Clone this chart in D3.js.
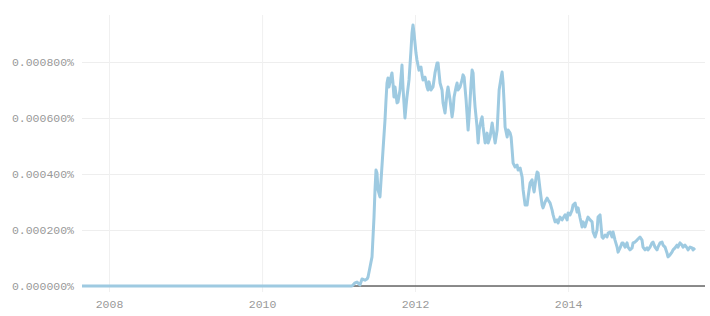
<!DOCTYPE html>
<meta charset="utf-8">
<title>Share over time</title>

<style>

body{
	margin: 0;
	background: white;
}
.tick text{
	font-family: "Liberation Mono", "DejaVu Sans Mono", monospace;
	font-size: 11.5px;
	fill: #999;
}
</style>

<body>

<script src="https://d3js.org/d3.v7.min.js"></script>

<script>

// decimal years
var years = [
	2007.647, 2011.176, 2011.216, 2011.242, 2011.281, 2011.307, 2011.346, 2011.373, 2011.386, 2011.412,
	2011.438, 2011.451, 2011.464, 2011.477, 2011.490, 2011.503, 2011.516, 2011.542, 2011.582, 2011.608,
	2011.621, 2011.634, 2011.647, 2011.660, 2011.686, 2011.699, 2011.712, 2011.725, 2011.739, 2011.765,
	2011.778, 2011.804, 2011.830, 2011.843, 2011.856, 2011.869, 2011.882, 2011.895, 2011.922, 2011.948,
	2011.961, 2011.974, 2011.987, 2012.013, 2012.026, 2012.052, 2012.078, 2012.092, 2012.105, 2012.131,
	2012.157, 2012.170, 2012.183, 2012.209, 2012.235, 2012.261, 2012.288, 2012.301, 2012.327, 2012.353,
	2012.366, 2012.392, 2012.418, 2012.431, 2012.458, 2012.484, 2012.497, 2012.510, 2012.536, 2012.549,
	2012.562, 2012.588, 2012.614, 2012.627, 2012.641, 2012.667, 2012.693, 2012.706, 2012.732, 2012.745,
	2012.758, 2012.771, 2012.784, 2012.810, 2012.824, 2012.837, 2012.863, 2012.876, 2012.889, 2012.915,
	2012.941, 2012.954, 2012.980, 2013.007, 2013.020, 2013.046, 2013.072, 2013.085, 2013.098, 2013.124,
	2013.137, 2013.150, 2013.163, 2013.176, 2013.203, 2013.216, 2013.242, 2013.255, 2013.268, 2013.281,
	2013.307, 2013.333, 2013.346, 2013.373, 2013.399, 2013.412, 2013.438, 2013.464, 2013.477, 2013.503,
	2013.529, 2013.542, 2013.556, 2013.582, 2013.595, 2013.608, 2013.634, 2013.660, 2013.673, 2013.699,
	2013.725, 2013.739, 2013.765, 2013.791, 2013.804, 2013.830, 2013.856, 2013.869, 2013.895, 2013.922,
	2013.935, 2013.961, 2013.987, 2014.000, 2014.026, 2014.052, 2014.065, 2014.092, 2014.118, 2014.131,
	2014.157, 2014.183, 2014.196, 2014.222, 2014.248, 2014.261, 2014.288, 2014.314, 2014.327, 2014.353,
	2014.379, 2014.392, 2014.418, 2014.444, 2014.458, 2014.484, 2014.510, 2014.523, 2014.549, 2014.575,
	2014.588, 2014.614, 2014.641, 2014.654, 2014.680, 2014.706, 2014.719, 2014.745, 2014.771, 2014.784,
	2014.810, 2014.837, 2014.850, 2014.876, 2014.902, 2014.941, 2014.967, 2014.980, 2015.007, 2015.033,
	2015.046, 2015.072, 2015.098, 2015.111, 2015.137, 2015.163, 2015.176, 2015.203, 2015.229, 2015.242,
	2015.268, 2015.294, 2015.307, 2015.333, 2015.359, 2015.373, 2015.399, 2015.425, 2015.438, 2015.464,
	2015.490, 2015.503, 2015.529, 2015.556, 2015.569, 2015.595, 2015.621, 2015.634, 2015.660
];

// share, in percent
var values = [
	0, 0, 0.000011, 0.000014, 0.000004, 0.000025, 0.000021, 0.000025, 0.000032, 0.000068,
	0.000104, 0.000175, 0.000246, 0.000343, 0.000414, 0.000404, 0.000343, 0.000318, 0.000486, 0.000593,
	0.000664, 0.000725, 0.000743, 0.000711, 0.000746, 0.000761, 0.000725, 0.000675, 0.000711, 0.000654,
	0.000657, 0.000700, 0.000789, 0.000711, 0.000654, 0.000600, 0.000639, 0.000675, 0.000736, 0.000843,
	0.000904, 0.000932, 0.000904, 0.000832, 0.000807, 0.000771, 0.000782, 0.000754, 0.000736, 0.000746,
	0.000711, 0.000700, 0.000729, 0.000700, 0.000711, 0.000761, 0.000796, 0.000796, 0.000725, 0.000700,
	0.000654, 0.000618, 0.000689, 0.000711, 0.000664, 0.000604, 0.000629, 0.000675, 0.000711, 0.000725,
	0.000700, 0.000711, 0.000736, 0.000754, 0.000746, 0.000664, 0.000557, 0.000604, 0.000725, 0.000771,
	0.000761, 0.000689, 0.000639, 0.000568, 0.000511, 0.000557, 0.000593, 0.000604, 0.000568, 0.000511,
	0.000546, 0.000511, 0.000532, 0.000582, 0.000557, 0.000511, 0.000557, 0.000629, 0.000700, 0.000746,
	0.000764, 0.000725, 0.000654, 0.000568, 0.000532, 0.000557, 0.000546, 0.000532, 0.000486, 0.000439,
	0.000425, 0.000432, 0.000414, 0.000421, 0.000389, 0.000343, 0.000289, 0.000289, 0.000318, 0.000368,
	0.000379, 0.000354, 0.000336, 0.000389, 0.000407, 0.000404, 0.000343, 0.000289, 0.000279, 0.000300,
	0.000314, 0.000307, 0.000296, 0.000271, 0.000254, 0.000229, 0.000236, 0.000225, 0.000246, 0.000236,
	0.000243, 0.000254, 0.000236, 0.000261, 0.000254, 0.000271, 0.000289, 0.000296, 0.000264, 0.000279,
	0.000243, 0.000211, 0.000229, 0.000211, 0.000236, 0.000246, 0.000236, 0.000229, 0.000193, 0.000175,
	0.000200, 0.000246, 0.000254, 0.000175, 0.000171, 0.000182, 0.000175, 0.000189, 0.000193, 0.000175,
	0.000193, 0.000164, 0.000139, 0.000121, 0.000136, 0.000154, 0.000154, 0.000139, 0.000154, 0.000139,
	0.000129, 0.000136, 0.000154, 0.000157, 0.000164, 0.000175, 0.000164, 0.000139, 0.000129, 0.000136,
	0.000129, 0.000139, 0.000154, 0.000157, 0.000139, 0.000129, 0.000139, 0.000154, 0.000157, 0.000146,
	0.000139, 0.000118, 0.000104, 0.000111, 0.000121, 0.000129, 0.000136, 0.000146, 0.000139, 0.000154,
	0.000146, 0.000139, 0.000146, 0.000136, 0.000129, 0.000139, 0.000136, 0.000129, 0.000136
];

var xTickYears = [2008, 2010, 2012, 2014];
var yTicks = [0, 0.0002, 0.0004, 0.0006, 0.0008];
var xRange = [2007.647, 2015.791];
var yMax = 0.001;

var width = 710;
var height = 316;
var margin = {top: 6, right: 5, bottom: 30, left: 82};

function toDate(y){
	var year = Math.floor(y);
	var start = new Date(year, 0, 1);
	var end = new Date(year + 1, 0, 1);
	return new Date(+start + (y - year) * (end - start));
}

var data = years.map(function(y, i){ return {date: toDate(y), value: values[i]}; });

var x = d3.scaleTime()
	.domain(xRange.map(toDate))
	.range([margin.left, width - margin.right]);

var y = d3.scaleLinear()
	.domain([0, yMax])
	.range([height - margin.bottom, margin.top]);

var svg = d3.select('body')
	.append('svg')
	.attr('width', width)
	.attr('height', height);

// horizontal grid + y labels
var yAxis = svg.append('g')
	.attr('transform', 'translate(' + margin.left + ',0)')
	.call(d3.axisLeft(y)
		.tickValues(yTicks)
		.tickSize(-(width - margin.left - margin.right))
		.tickPadding(8)
		.tickFormat(function(d){ return d3.format('.6f')(d) + '%'; }));

yAxis.select('.domain').remove();
yAxis.selectAll('.tick line')
	.attr('stroke', '#eeeeee');

// vertical grid + x labels
var xAxis = svg.append('g')
	.attr('transform', 'translate(0,' + (height - margin.bottom) + ')')
	.call(d3.axisBottom(x)
		.tickValues(xTickYears.map(function(d){ return new Date(d, 0, 1); }))
		.tickSize(0)
		.tickPadding(14)
		.tickFormat(d3.timeFormat('%Y')));

xAxis.select('.domain').remove();
xAxis.selectAll('.tick line')
	.attr('y1', 6)
	.attr('y2', 15 - (height - margin.bottom))
	.attr('stroke', '#f0f0f0');

// zero line
svg.append('line')
	.attr('x1', margin.left)
	.attr('x2', width - margin.right)
	.attr('y1', y(0))
	.attr('y2', y(0))
	.attr('stroke', '#666')
	.attr('stroke-width', 1.5);

var line = d3.line()
	.x(function(d){ return x(d.date); })
	.y(function(d){ return y(d.value); });

svg.append('path')
	.datum(data)
	.attr('fill', 'none')
	.attr('stroke', '#9ecae1')
	.attr('stroke-width', 3)
	.attr('stroke-linejoin', 'round')
	.attr('d', line);

</script>
</body>
